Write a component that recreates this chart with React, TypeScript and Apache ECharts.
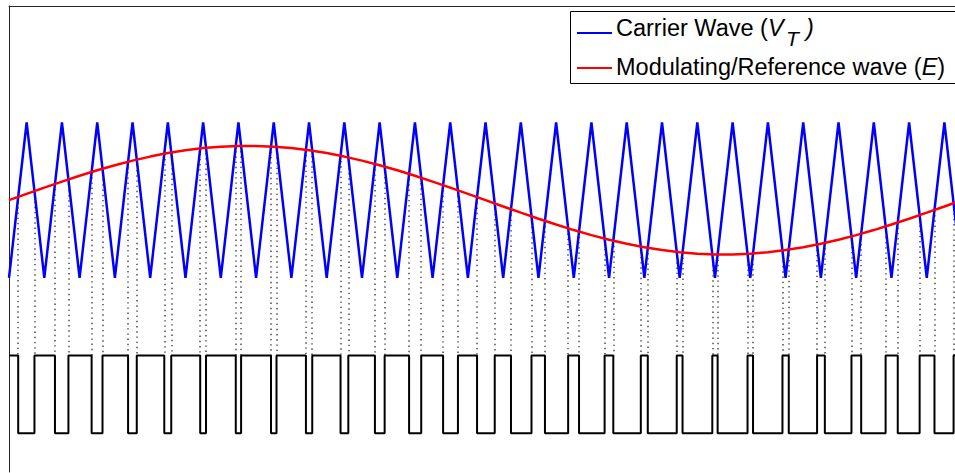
import React, { useEffect, useRef } from "react";
import * as echarts from "echarts";

// Sample times (in carrier periods) shared by the carrier and the reference wave
const sampleTimes = [
  0, 0.5, 1, 1.5, 2, 2.5, 3, 3.5, 4, 4.5, 5, 5.5, 6, 6.5, 7, 7.5, 8, 8.5, 9, 9.5,
  10, 10.5, 11, 11.5, 12, 12.5, 13, 13.5, 14, 14.5, 15, 15.5, 16, 16.5, 17, 17.5,
  18, 18.5, 19, 19.5, 20, 20.5, 21, 21.5, 22, 22.5, 23, 23.5, 24, 24.5, 25, 25.5,
  26, 26.5, 27,
];

// Triangular carrier wave V_T (vertices)
const carrierValues = [
  -1, 1, -1, 1, -1, 1, -1, 1, -1, 1, -1, 1, -1, 1, -1, 1, -1, 1, -1, 1,
  -1, 1, -1, 1, -1, 1, -1, 1, -1, 1, -1, 1, -1, 1, -1, 1, -1, 1, -1, 1,
  -1, 1, -1, 1, -1, 1, -1, 1, -1, 1, -1, 1, -1, 1, -1,
];

// Modulating / reference wave E
const referenceValues = [
  0, 0.081, 0.161, 0.239, 0.314, 0.385, 0.45, 0.509, 0.561, 0.606, 0.643, 0.671,
  0.689, 0.699, 0.699, 0.689, 0.671, 0.643, 0.606, 0.561, 0.509, 0.45, 0.385,
  0.314, 0.239, 0.161, 0.081, 0, -0.081, -0.161, -0.239, -0.314, -0.385, -0.45,
  -0.509, -0.561, -0.606, -0.643, -0.671, -0.689, -0.699, -0.699, -0.689, -0.671,
  -0.643, -0.606, -0.561, -0.509, -0.45, -0.385, -0.314, -0.239, -0.161, -0.081, 0,
];

// PWM output levels
const pwmHigh = -2;
const pwmLow = -3;

// Visible axis window
const xRange = [0, 26.8];
const yRange = [-3.5, 2.5];

function buildPwm() {
  const crossings: [number, number][] = [];
  for (let i = 0; i < sampleTimes.length - 1; i++) {
    const d0 = referenceValues[i] - carrierValues[i];
    const d1 = referenceValues[i + 1] - carrierValues[i + 1];
    if ((d0 > 0 && d1 <= 0) || (d0 < 0 && d1 >= 0)) {
      const f = d0 / (d0 - d1);
      const t = sampleTimes[i] + f * (sampleTimes[i + 1] - sampleTimes[i]);
      const v = referenceValues[i] + f * (referenceValues[i + 1] - referenceValues[i]);
      crossings.push([t, v]);
    }
  }
  const start = referenceValues[0] > carrierValues[0];
  let level = start ? pwmHigh : pwmLow;
  const pwm: [number, number][] = [[sampleTimes[0], level]];
  for (const [t] of crossings) {
    pwm.push([t, level]);
    level = level === pwmHigh ? pwmLow : pwmHigh;
    pwm.push([t, level]);
  }
  pwm.push([sampleTimes[sampleTimes.length - 1], level]);
  return { crossings, pwm };
}

export default function App() {
  const ref = useRef<HTMLDivElement>(null);
  useEffect(() => {
    if (!ref.current) return;
    const chart = echarts.init(ref.current, undefined, { renderer: "svg" });
    const { crossings, pwm } = buildPwm();
    const font = "'Liberation Sans', Arial, Helvetica, sans-serif";
    chart.setOption({
      animation: false,
      backgroundColor: "#ffffff",
      grid: { left: 9, top: 6, width: 946, height: 466, containLabel: false },
      xAxis: {
        type: "value",
        min: xRange[0],
        max: xRange[1],
        position: "top",
        axisLine: { show: true, onZero: false, lineStyle: { color: "#262626", width: 1 } },
        axisTick: { show: false },
        axisLabel: { show: false },
        splitLine: { show: false },
      },
      yAxis: {
        type: "value",
        min: yRange[0],
        max: yRange[1],
        position: "left",
        axisLine: { show: true, onZero: false, lineStyle: { color: "#262626", width: 1 } },
        axisTick: { show: false },
        axisLabel: { show: false },
        splitLine: { show: false },
      },
      series: [
        {
          type: "lines",
          coordinateSystem: "cartesian2d",
          silent: true,
          z: 1,
          lineStyle: { color: "#4a4a4a", width: 1.5, type: [1.4, 3.8], opacity: 1 },
          data: crossings.map(([t, v]) => ({ coords: [[t, v], [t, pwmHigh]] })),
        },
        {
          type: "line",
          name: "PWM",
          data: pwm,
          symbol: "none",
          z: 2,
          lineStyle: { color: "#000000", width: 2 },
        },
        {
          type: "line",
          name: "Carrier Wave",
          data: sampleTimes.map((t, i) => [t, carrierValues[i]]),
          symbol: "none",
          z: 3,
          lineStyle: { color: "#0000ff", width: 2.5 },
        },
        {
          type: "line",
          name: "Modulating/Reference wave",
          data: sampleTimes.map((t, i) => [t, referenceValues[i]]),
          symbol: "none",
          z: 4,
          lineStyle: { color: "#ff0000", width: 2.5 },
        },
      ],
      graphic: [
        {
          type: "rect",
          z: 100,
          shape: { x: 570.5, y: 11.5, width: 420, height: 72 },
          style: { fill: "#ffffff", stroke: "#000000", lineWidth: 1 },
        },
        {
          type: "line",
          z: 101,
          shape: { x1: 577, y1: 33, x2: 612, y2: 33 },
          style: { stroke: "#0000ff", lineWidth: 2 },
        },
        {
          type: "line",
          z: 101,
          shape: { x1: 577, y1: 68, x2: 612, y2: 68 },
          style: { stroke: "#ff0000", lineWidth: 2 },
        },
        {
          type: "text",
          z: 101,
          x: 616,
          y: 28,
          style: {
            text: "{n|Carrier Wave (}{i|V}",
            verticalAlign: "middle",
            align: "left",
            fill: "#000000",
            rich: {
              n: { fontSize: 23.5, fontFamily: font, fill: "#000000" },
              i: { fontSize: 23.5, fontFamily: font, fontStyle: "italic", fill: "#000000" },
            },
          },
        },
        {
          type: "text",
          z: 101,
          x: 786,
          y: 38,
          style: {
            text: "T",
            verticalAlign: "middle",
            align: "left",
            fill: "#000000",
            fontSize: 21,
            fontFamily: font,
            fontStyle: "italic",
          },
        },
        {
          type: "text",
          z: 101,
          x: 806,
          y: 28,
          style: {
            text: ")",
            verticalAlign: "middle",
            align: "left",
            fill: "#000000",
            fontSize: 23.5,
            fontFamily: font,
            fontStyle: "italic",
          },
        },
        {
          type: "text",
          z: 101,
          x: 616,
          y: 67,
          style: {
            text: "{n|Modulating/Reference wave (}{i|E}{n|)}",
            verticalAlign: "middle",
            align: "left",
            fill: "#000000",
            rich: {
              n: { fontSize: 23.5, fontFamily: font, fill: "#000000" },
              i: { fontSize: 23.5, fontFamily: font, fontStyle: "italic", fill: "#000000" },
            },
          },
        },
      ],
    });
    return () => chart.dispose();
  }, []);
  return (
    <div
      ref={ref}
      style={{ position: "fixed", left: 0, top: 0, width: 955, height: 473, background: "#fff" }}
    />
  );
}
